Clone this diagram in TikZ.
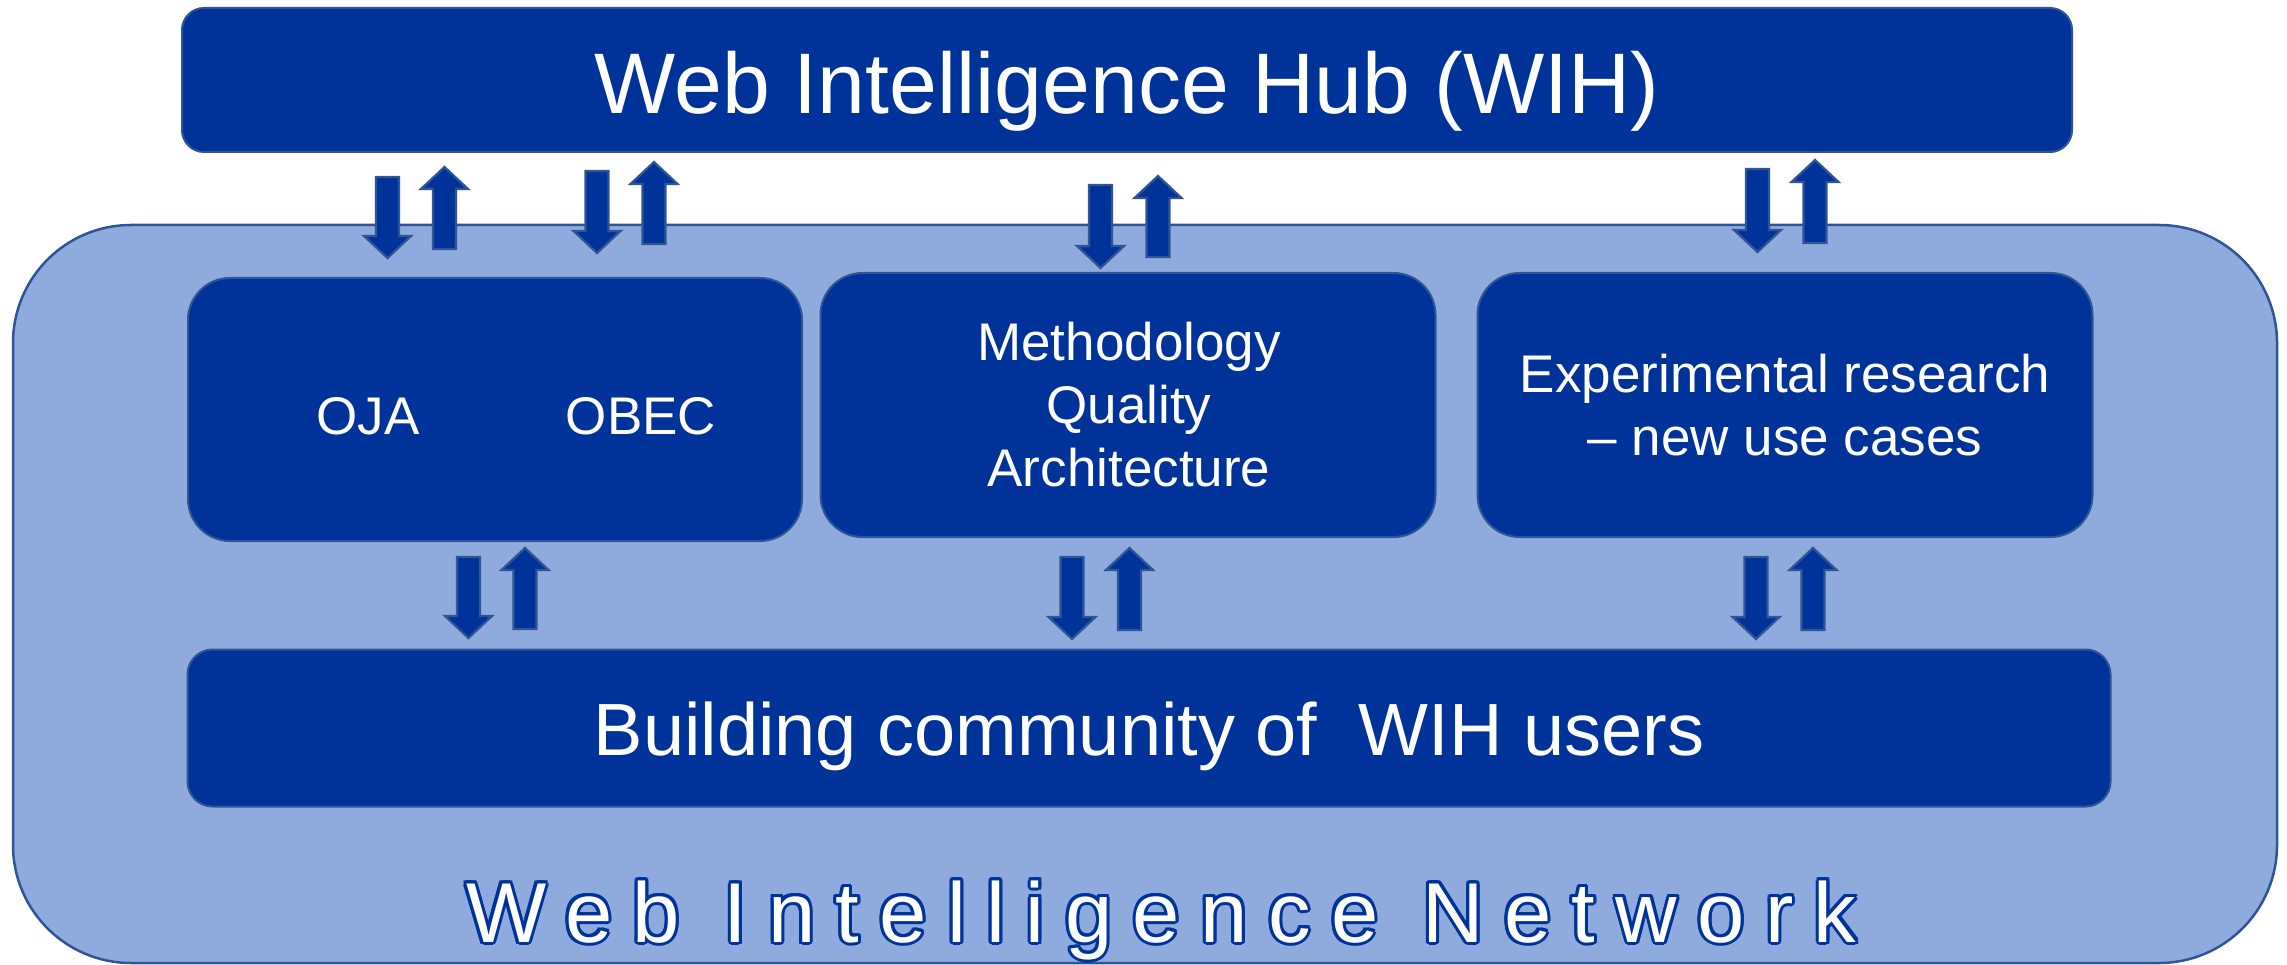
\documentclass[tikz,border=0pt]{standalone}
\usepackage{fontspec}
\setmainfont{Liberation Sans}
\newfontfamily\netfont[LetterSpace=24]{Liberation Sans}
\definecolor{wihdark}{HTML}{003399}
\definecolor{wihedge}{HTML}{2F5597}
\definecolor{wihlight}{HTML}{8FAADC}
\tikzset{
  darkbox/.style={draw=wihedge, fill=wihdark, line width=2pt, inner sep=0pt, outer sep=0pt},
  outerbox/.style={draw=wihedge, fill=wihlight, line width=2.5pt, rounded corners=118pt, inner sep=0pt, outer sep=0pt},
  barrow/.style={draw=wihedge, fill=wihdark, line width=2.2pt, line join=miter},
  lbl/.style={text=white, inner sep=0pt, outer sep=0pt, font=\fontsize{53}{63}\selectfont, align=center},
  nettxt/.style={inner sep=0pt, outer sep=0pt, anchor=base west, text=white, font=\fontsize{85}{100}\selectfont\netfont},
}
\newcommand\arrowdown[4]{%
  \draw[barrow] ({#2-11.5},#3) -- ({#2-11.5},{#4-22}) -- ({#2-23.5},{#4-22}) -- (#2,#4)
    -- ({#2+23.5},{#4-22}) -- ({#2+11.5},{#4-22}) -- ({#2+11.5},#3) -- cycle;
  \coordinate (#1) at (#2,#4);}
\newcommand\arrowup[4]{%
  \draw[barrow] ({#2-11.5},#3) -- ({#2-11.5},{#4+22}) -- ({#2-23.5},{#4+22}) -- (#2,#4)
    -- ({#2+23.5},{#4+22}) -- ({#2+11.5},{#4+22}) -- ({#2+11.5},#3) -- cycle;
  \coordinate (#1) at (#2,#4);}
% text with a dark outline, built inside one box
\newcommand\outlinedtext[1]{%
  \foreach \a in {0,22.5,...,337.5}{%
    \pgfmathsetmacro\odx{3.0*cos(\a)}%
    \pgfmathsetmacro\ody{3.0*sin(\a)}%
    \rlap{\hspace*{\odx pt}\raisebox{\ody pt}{\textcolor{wihdark}{#1}}}}%
  \textcolor{white}{#1}}
\begin{document}
\begin{tikzpicture}[x=1pt,y=-1pt]
\useasboundingbox (0,0) rectangle (2287,965);
% outer network area
\node[outerbox, minimum width=2264pt, minimum height=738pt] (net) at (1145,594) {};
% hub
\node[darkbox, rounded corners=22pt, minimum width=1890pt, minimum height=144pt] (hub) at (1127,80) {};
\node[text=white, inner sep=0pt, anchor=base, font=\fontsize{86}{100}\selectfont] (hubtext) at (1127,114) {Web Intelligence Hub (WIH)};
% inner boxes
\node[darkbox, rounded corners=42pt, minimum width=614pt, minimum height=263pt] (b1) at (495,409.5) {};
\node[darkbox, rounded corners=42pt, minimum width=615pt, minimum height=264pt] (b2) at (1128,405) {};
\node[darkbox, rounded corners=42pt, minimum width=615pt, minimum height=264pt] (b3) at (1785,405) {};
\node[darkbox, rounded corners=25pt, minimum width=1923pt, minimum height=157pt] (b4) at (1149,728) {};
% texts
\node[lbl, anchor=base] (oja) at (368,435) {OJA};
\node[lbl, anchor=base] (obec) at (641,435) {OBEC};
\node[lbl] (meth) at (1129,405) {Methodology\\Quality\\Architecture};
\node[lbl] (exp) at (1785,405) {Experimental research\\– new use cases};
\node[text=white, inner sep=0pt, anchor=base, font=\fontsize{74}{90}\selectfont] (build) at (1149,755) {Building community of~ WIH users};
% arrows hub <-> boxes
\arrowdown{d1}{387.5}{177}{258}
\arrowup{u1}{444.5}{249}{167}
\arrowdown{d2}{597}{171}{253}
\arrowup{u2}{654}{244}{162}
\arrowdown{d3}{1100.5}{185}{268}
\arrowup{u3}{1158}{257}{176}
\arrowdown{d4}{1757.5}{169}{252}
\arrowup{u4}{1815}{243}{160}
% arrows boxes <-> community
\arrowdown{d5}{468.5}{557}{638}
\arrowup{u5}{525}{629}{548}
\arrowdown{d6}{1072}{557}{639}
\arrowup{u6}{1129.5}{630}{548}
\arrowdown{d7}{1756}{557}{639}
\arrowup{u7}{1813}{630}{548}
% outlined network title
\node[nettxt] (nettitle) at (466,942) {\outlinedtext{Web Intelligence Network}};
\end{tikzpicture}
\end{document}
